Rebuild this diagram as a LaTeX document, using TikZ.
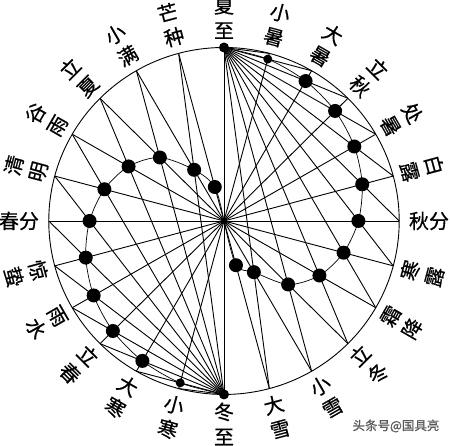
\documentclass[tikz,border=0pt]{standalone}
\usepackage{fontspec}
\usepackage{tikz}
\newfontfamily\cjk[FakeBold=0.6]{Noto Sans CJK SC}

\begin{document}
\begin{tikzpicture}[x=1.01pt, y=1pt]
	\tikzstyle{term} = [font=\cjk\fontsize{20}{25}\selectfont, align=center, inner sep=0pt];
	\tikzstyle{ray} = [draw=black, line width=0.9pt];
	\tikzstyle{bead} = [circle, fill=black, inner sep=0pt, minimum size=14pt];
	\tikzstyle{small bead} = [bead, minimum size=9pt];

	\useasboundingbox (-221.8,-225) rectangle (223.8,221);

	\coordinate (centre) at (0,0);
	% the 24 terms round the circle
	\foreach \name/\ang/\txt/\rot in {xiazhi/90/{夏\\至}/0, xiaoshu/75/{小\\暑}/-15, dashu/60/{大\\暑}/-30,
		liqiu/45/{立\\秋}/-45, chushu/30/{处\\暑}/-60, bailu/15/{白\\露}/-75, qiufen/0/{秋分}/0,
		hanlu/-15/{寒\\露}/75, shuangjiang/-30/{霜\\降}/60, lidong/-45/{立\\冬}/45, xiaoxue/-60/{小\\雪}/30,
		daxue/-75/{大\\雪}/15, dongzhi/-90/{冬\\至}/0, xiaohan/-105/{小\\寒}/-15, dahan/-120/{大\\寒}/-30,
		lichun/-135/{立\\春}/-45, yushui/-150/{雨\\水}/-60, jingzhe/-165/{惊\\蛰}/-75, chunfen/180/{春分}/0,
		qingming/165/{清\\明}/75, guyu/150/{谷\\雨}/60, lixia/135/{立\\夏}/45, xiaoman/120/{小\\满}/30,
		mangzhong/105/{芒\\种}/15}
	{
		\coordinate (\name) at (\ang:173.5);
		\node[term, rotate=\rot] (label \name) at (\ang:203) {\txt};
	}

	\draw[ray] (centre) circle[radius=173.5];

	% diameters
	\path[ray] (xiazhi) edge (dongzhi)
		(xiaoshu) edge (xiaohan)
		(dashu) edge (dahan)
		(liqiu) edge (lichun)
		(chushu) edge (yushui)
		(bailu) edge (jingzhe)
		(qiufen) edge (chunfen)
		(hanlu) edge (qingming)
		(shuangjiang) edge (guyu)
		(lidong) edge (lixia)
		(xiaoxue) edge (xiaoman)
		(daxue) edge (mangzhong);

	% fans from the two solstices
	\path[ray] (xiazhi) edge (xiaoshu) edge (dashu) edge (liqiu) edge (chushu) edge (bailu) edge (qiufen)
		edge (hanlu) edge (shuangjiang) edge (lidong) edge (xiaoxue) edge (daxue);
	\path[ray] (dongzhi) edge (xiaohan) edge (dahan) edge (lichun) edge (yushui) edge (jingzhe) edge (chunfen)
		edge (qingming) edge (guyu) edge (lixia) edge (xiaoman) edge (mangzhong);

	\foreach \name/\ang/\r in {dashu/60/161.6, liqiu/45/155.6, chushu/30/149.0, bailu/15/141.7, qiufen/0/133.1,
		hanlu/-15/122.6, shuangjiang/-30/109.1, lidong/-45/89.8, xiaoxue/-60/59.1, daxue/-75/45.8,
		dahan/-120/161.6, lichun/-135/155.6, yushui/-150/149.0, jingzhe/-165/141.7, chunfen/180/133.1,
		qingming/165/122.6, guyu/150/109.1, lixia/135/89.8, xiaoman/120/59.1, mangzhong/105/35.2}
		\node[bead] (bead \name) at (\ang:\r) {};
	\node[small bead] (bead xiaoshu) at (75:167.6) {};
	\node[small bead] (bead xiaohan) at (-105:167.6) {};
	\node[bead, minimum size=10pt] (bead xiazhi) at (xiazhi) {};
	\node[bead, minimum size=10pt] (bead dongzhi) at (dongzhi) {};

	\draw[ray, line width=0.7pt] plot[smooth] coordinates {(bead xiazhi.center) (bead xiaoshu.center) (bead dashu.center)
		(bead liqiu.center) (bead chushu.center) (bead bailu.center) (bead qiufen.center) (bead hanlu.center)
		(bead shuangjiang.center) (bead lidong.center) (bead xiaoxue.center) (bead daxue.center) (centre)};
	\draw[ray, line width=0.7pt] plot[smooth] coordinates {(bead dongzhi.center) (bead xiaohan.center) (bead dahan.center)
		(bead lichun.center) (bead yushui.center) (bead jingzhe.center) (bead chunfen.center) (bead qingming.center)
		(bead guyu.center) (bead lixia.center) (bead xiaoman.center) (bead mangzhong.center) (centre)};

	\node[text=black!65, font=\cjk\fontsize{12.5}{14}\selectfont] (mark) at (170.3,-205) {头条号@国具亮};
\end{tikzpicture}
\end{document}
